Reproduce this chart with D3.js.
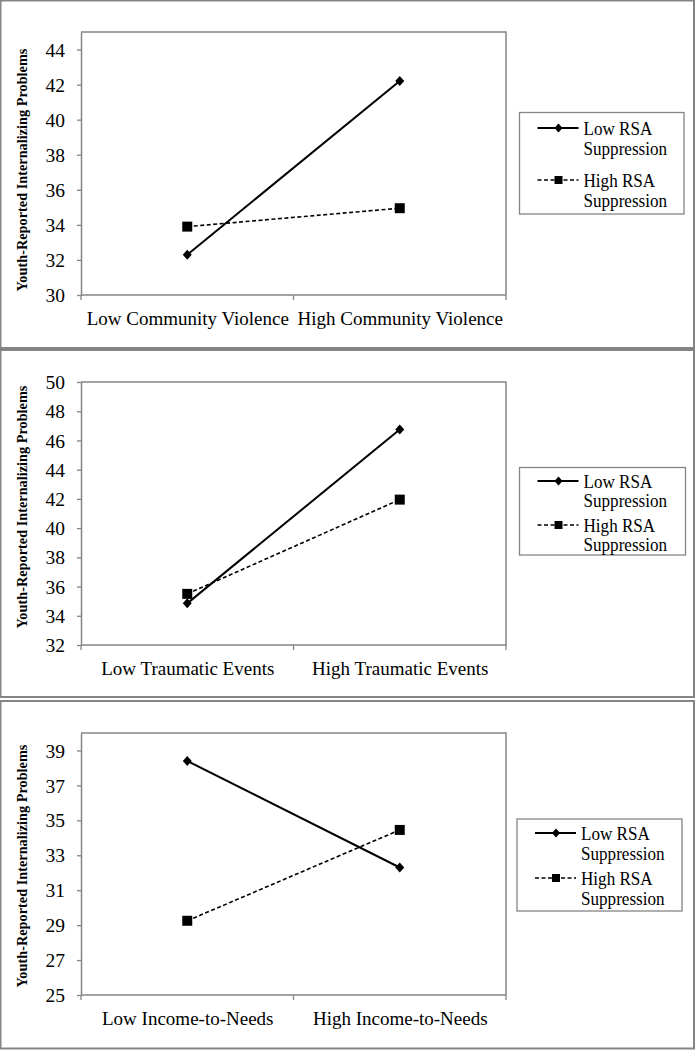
<!DOCTYPE html>
<html>
<head>
<meta charset="utf-8">
<script src="https://cdn.jsdelivr.net/npm/d3@7/dist/d3.min.js"></script>
<style>
  html, body { margin: 0; padding: 0; background: #fff; }
  svg { display: block; }
</style>
</head>
<body>
<svg id="chart" width="695" height="1050"></svg>
<script>
// ---------- DATA ----------
const seriesNames = ["Low RSA Suppression", "High RSA Suppression"];
const legendLines = [["Low RSA", "Suppression"], ["High RSA", "Suppression"]];
const yTitle = "Youth-Reported Internalizing Problems";

const categories1 = ["Low Community Violence", "High Community Violence"];
const lowRSA1 = [32.3, 42.2];
const highRSA1 = [33.9, 34.95];
const yTicks1 = [30, 32, 34, 36, 38, 40, 42, 44];
const yDomain1 = [30, 45];

const categories2 = ["Low Traumatic Events", "High Traumatic Events"];
const lowRSA2 = [34.85, 46.75];
const highRSA2 = [35.5, 41.95];
const yTicks2 = [32, 34, 36, 38, 40, 42, 44, 46, 48, 50];
const yDomain2 = [32, 50];

const categories3 = ["Low Income-to-Needs", "High Income-to-Needs"];
const lowRSA3 = [38.4, 32.3];
const highRSA3 = [29.25, 34.45];
const yTicks3 = [25, 27, 29, 31, 33, 35, 37, 39];
const yDomain3 = [25, 40];

// ---------- LAYOUT ----------
const panels = [
  { cats: categories1, low: lowRSA1, high: highRSA1, ticks: yTicks1, domain: yDomain1,
    frame: [0.5, 0.5, 694, 348], plot: [81, 32, 506, 295], titleY: 170,
    legend: [519.5, 112.5, 684, 214], legY: [128, 180], legGap: 20 },
  { cats: categories2, low: lowRSA2, high: highRSA2, ticks: yTicks2, domain: yDomain2,
    frame: [0.5, 350, 694, 697], plot: [81, 382, 506, 645], titleY: 507,
    legend: [519.5, 467.5, 685.5, 555], legY: [481, 525], legGap: 19 },
  { cats: categories3, low: lowRSA3, high: highRSA3, ticks: yTicks3, domain: yDomain3,
    frame: [0.5, 701, 694, 1048.5], plot: [81, 733, 506, 995], titleY: 866,
    legend: [517, 819, 682, 911], legY: [833, 878], legGap: 20 }
];

const svg = d3.select("#chart");
const serif = "'Liberation Serif', 'Times New Roman', Times, serif";
const gray = "#858585";

const diamondPath = "M0,-5L4.5,0L0,5L-4.5,0Z";
const squarePath = "M-5,-5L5,-5L5,5L-5,5Z";

panels.forEach(p => {
  const g = svg.append("g");
  // panel frame
  g.append("rect")
    .attr("x", p.frame[0]).attr("y", p.frame[1])
    .attr("width", p.frame[2] - p.frame[0]).attr("height", p.frame[3] - p.frame[1])
    .attr("fill", "none").attr("stroke", gray).attr("stroke-width", 2);

  const [x0, y0, x1, y1] = p.plot;
  const x = d3.scalePoint().domain(p.cats).range([x0, x1]).padding(0.5);
  const xb = d3.scaleBand().domain(p.cats).range([x0, x1]).padding(0);
  const y = d3.scaleLinear().domain(p.domain).range([y1, y0]);

  // plot area frame (top and right)
  g.append("path")
    .attr("d", `M${x0},${y0}H${x1}V${y1}`)
    .attr("fill", "none").attr("stroke", gray).attr("stroke-width", 1.5);

  // y axis
  const ya = g.append("g").attr("transform", `translate(${x0},0)`)
    .call(d3.axisLeft(y).tickValues(p.ticks).tickSize(4).tickPadding(12).tickSizeOuter(0));
  ya.select(".domain").attr("stroke", gray).attr("stroke-width", 1.5);
  ya.selectAll(".tick line").attr("stroke", gray).attr("stroke-width", 1.3);
  ya.selectAll(".tick text").attr("font-family", serif).attr("font-size", 19.5).attr("fill", "#000")
    .attr("dy", "0.34em");

  // x axis
  const xa = g.append("g").attr("transform", `translate(0,${y1})`)
    .call(d3.axisBottom(x).tickSize(0).tickPadding(0).tickSizeOuter(0));
  xa.select(".domain").remove();
  xa.selectAll(".tick text").attr("font-family", serif).attr("font-size", 19).attr("fill", "#000")
    .attr("dy", 0).attr("y", 30);
  g.append("path")
    .attr("d", `M${x0},${y1}H${x1}`)
    .attr("stroke", gray).attr("stroke-width", 1.5);
  const bounds = [xb(p.cats[0])].concat(p.cats.map(c => xb(c) + xb.bandwidth()));
  g.selectAll(".xtick").data(bounds).join("line")
    .attr("x1", d => d).attr("x2", d => d)
    .attr("y1", y1).attr("y2", y1 + 5)
    .attr("stroke", gray).attr("stroke-width", 1.3);

  // y title
  g.append("text")
    .attr("transform", `translate(22,${p.titleY}) rotate(-90)`)
    .attr("text-anchor", "middle").attr("dominant-baseline", "central")
    .attr("font-family", serif).attr("font-weight", "bold").attr("font-size", 14.3)
    .text(yTitle);

  // series
  const seriesData = [p.low, p.high];
  const line = d3.line().x((d, i) => x(p.cats[i])).y(d => y(d));
  seriesData.forEach((vals, si) => {
    g.append("path").datum(vals)
      .attr("d", line)
      .attr("fill", "none").attr("stroke", "#000")
      .attr("stroke-width", si === 0 ? 2 : 1.6)
      .attr("stroke-dasharray", si === 0 ? null : "4,2.5");
    g.selectAll(".m" + si).data(vals).join("path")
      .attr("d", si === 0 ? diamondPath : squarePath)
      .attr("transform", (d, i) => `translate(${x(p.cats[i])},${y(d)})`)
      .attr("fill", "#000");
  });

  // legend
  const [lx0, ly0, lx1, ly1] = p.legend;
  g.append("rect")
    .attr("x", lx0).attr("y", ly0).attr("width", lx1 - lx0).attr("height", ly1 - ly0)
    .attr("fill", "#fff").attr("stroke", gray).attr("stroke-width", 1.3);
  seriesNames.forEach((name, si) => {
    const ly = p.legY[si];
    g.append("line")
      .attr("x1", lx0 + 18).attr("x2", lx0 + 59).attr("y1", ly).attr("y2", ly)
      .attr("stroke", "#000").attr("stroke-width", si === 0 ? 2 : 1.6)
      .attr("stroke-dasharray", si === 0 ? null : "4,2.5");
    g.append("path")
      .attr("d", si === 0 ? diamondPath : squarePath)
      .attr("transform", `translate(${lx0 + 39},${ly}) scale(${si === 0 ? 0.9 : 0.8})`)
      .attr("fill", "#000");
    legendLines[si].forEach((t, k) => {
      g.append("text")
        .attr("transform", `translate(${lx0 + 64},${ly + 7 + k * p.legGap}) scale(0.9,1)`)
        .attr("font-family", serif).attr("font-size", 19).attr("fill", "#000")
        .text(t);
    });
  });
});
</script>
</body>
</html>
